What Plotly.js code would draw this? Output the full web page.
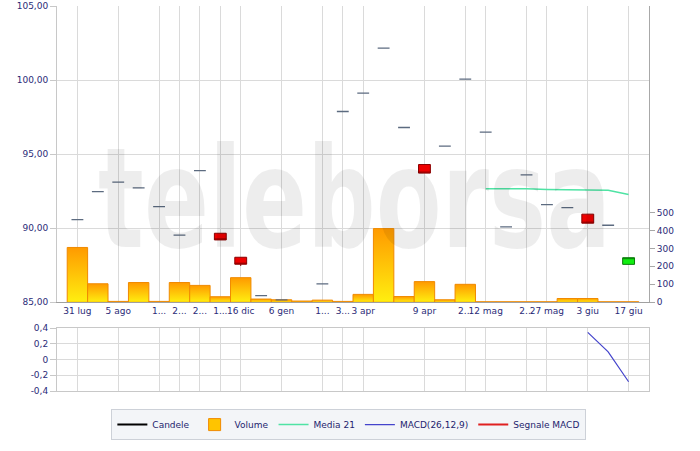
<!DOCTYPE html>
<html>
<head>
<meta charset="utf-8">
<script src="https://cdn.plot.ly/plotly-3.0.1.min.js"></script>
<style>
  html, body { margin: 0; padding: 0; background: #ffffff; }
  #chart { width: 700px; height: 451px; }
</style>
</head>
<body>
<div id="chart"></div>
<script>
// ---- Data ----
const xIndex = [0,1,2,3,4,5,6,7,8,9,10,11,12,13,14,15,16,17,18,19,20,21,22,23,24,25,26,27];
const tickIndex = [0,2,4,5,6,7,8,10,12,13,14,17,19,20,22,23,25,27];
const tickLabels = ["31 lug","5 ago","1...","2...","2...","1...","16 dic","6 gen","1...","3...","3 apr","9 apr","2...","12 mag","2...","27 mag","3 giu","17 giu"];

const openP  = [90.58,92.47,93.11,92.72,91.46,89.53,93.89,89.66,88.04,85.45,85.16,null,86.25,97.88,99.12,102.16,96.80,94.30,95.54,100.07,96.49,90.09,93.60,91.59,91.39,90.95,90.20,87.56];
const closeP = [90.58,92.47,93.11,92.72,91.46,89.53,93.89,89.21,87.57,85.45,85.16,null,86.25,97.88,99.12,102.16,96.80,93.72,95.54,100.07,96.49,90.09,93.60,91.59,91.39,90.34,90.20,88.01];
const highP  = [90.58,92.47,93.11,92.72,91.46,89.53,93.89,89.66,88.04,85.45,85.16,null,86.25,97.88,99.12,102.16,96.80,94.30,95.54,100.07,96.49,90.09,93.60,91.59,91.39,90.95,90.20,88.01];
const lowP   = [90.58,92.47,93.11,92.72,91.46,89.53,93.89,89.21,87.45,85.45,85.16,null,86.25,97.88,99.12,102.16,96.80,93.72,95.54,100.07,96.49,90.09,93.60,91.59,91.39,90.34,90.20,87.56];

const volume = [305,103,5,110,5,110,94,31,137,18,14,7,12,5,44,410,32,115,14,100,3,3,3,3,21,21,3,3];

const media21 = [null,null,null,null,null,null,null,null,null,null,null,null,null,null,null,null,null,null,null,null,92.66,92.68,92.67,92.62,92.59,92.57,92.56,92.28];

const macd = [null,null,null,null,null,null,null,null,null,null,null,null,null,null,null,null,null,null,null,null,null,null,null,null,null,0.344,0.098,-0.283];
const macdTicks = [-0.4,-0.2,0,0.2,0.4];
const macdTickText = ["-0,4","-0,2","0","0,2","0,4"];
const volTicks = [0,100,200,300,400,500];

// ---- split candles: bodies vs. doji dashes ----
function pick(arr, cond) { return arr.map((v, i) => cond(i) ? v : null); }
const isDoji = i => openP[i] !== null && openP[i] === closeP[i];
const isBody = i => openP[i] !== null && openP[i] !== closeP[i];

const tickFont = { family: 'DejaVu Sans, Verdana, sans-serif', size: 9, color: '#2B2B78' };
const gridC = '#DADADA';

const traces = [
  { // volume bars (base subplot, drawn underneath)
    type: 'bar', x: xIndex, y: volume, xaxis: 'x', yaxis: 'y',
    name: 'Volume', width: 1,
    marker: { color: '#FFC400', line: { color: '#F08A00', width: 1 } },
    legendrank: 2, hoverinfo: 'skip'
  },
  { // doji candles
    type: 'candlestick', x: xIndex, xaxis: 'x', yaxis: 'y2',
    open: pick(openP, isDoji), high: pick(highP, isDoji), low: pick(lowP, isDoji), close: pick(closeP, isDoji),
    increasing: { line: { color: '#5C6B80', width: 1.3 }, fillcolor: '#5C6B80' },
    decreasing: { line: { color: '#5C6B80', width: 1.3 }, fillcolor: '#5C6B80' },
    whiskerwidth: 0, showlegend: false, hoverinfo: 'skip'
  },
  { // candle bodies
    type: 'candlestick', x: xIndex, xaxis: 'x', yaxis: 'y2',
    open: pick(openP, isBody), high: pick(highP, isBody), low: pick(lowP, isBody), close: pick(closeP, isBody),
    increasing: { line: { color: '#0A7A0A', width: 1 }, fillcolor: '#11EE11' },
    decreasing: { line: { color: '#8A0000', width: 1 }, fillcolor: '#EE0000' },
    whiskerwidth: 0, showlegend: false, hoverinfo: 'skip'
  },
  { // legend entry for candles
    type: 'scatter', mode: 'lines', x: [null], y: [null], xaxis: 'x', yaxis: 'y2',
    name: 'Candele', line: { color: '#000000', width: 2 }, legendrank: 1
  },
  {
    type: 'scatter', mode: 'lines', x: xIndex, y: media21, xaxis: 'x', yaxis: 'y2',
    name: 'Media 21', line: { color: '#4FE3A4', width: 1.5 }, legendrank: 3, hoverinfo: 'skip'
  },
  {
    type: 'scatter', mode: 'lines', x: xIndex, y: macd, xaxis: 'x2', yaxis: 'y3',
    name: 'MACD(26,12,9)', line: { color: '#4444CC', width: 1.2 }, legendrank: 4, hoverinfo: 'skip'
  },
  {
    type: 'scatter', mode: 'lines', x: [null], y: [null], xaxis: 'x2', yaxis: 'y3',
    name: 'Segnale MACD', line: { color: '#E02020', width: 2 }, legendrank: 5
  }
];

const layout = {
  width: 700, height: 451,
  margin: { l: 57, r: 51, t: 6, b: 60 },
  paper_bgcolor: '#ffffff', plot_bgcolor: '#ffffff',
  separators: ',.',
  font: tickFont,
  bargap: 0, boxgap: 0.17,
  showlegend: true,
  xaxis: {
    domain: [0, 1], anchor: 'y', range: [-1, 28],
    tickmode: 'array', tickvals: tickIndex, ticktext: tickLabels, tickangle: 0,
    showgrid: true, gridcolor: gridC, gridwidth: 1, zeroline: false,
    showline: true, linecolor: '#A0A0A0', linewidth: 1,
    ticks: '', tickfont: tickFont,
    rangeslider: { visible: false }, fixedrange: true
  },
  xaxis2: {
    domain: [0, 1], anchor: 'y3', matches: 'x', range: [-1, 28],
    tickmode: 'array', tickvals: tickIndex, showticklabels: false,
    showgrid: true, gridcolor: gridC, zeroline: false,
    showline: true, mirror: true, linecolor: '#C8C8C8', ticks: '',
    rangeslider: { visible: false }
  },
  yaxis: { // volume
    domain: [0.2304, 1], anchor: 'x', side: 'right', range: [0, 1648],
    tickmode: 'array', tickvals: volTicks, showgrid: false, zeroline: false,
    showline: true, linecolor: '#A8A8A8', ticks: 'outside', ticklen: 5, tickcolor: '#A8A8A8',
    tickfont: tickFont
  },
  yaxis2: { // price
    overlaying: 'y', anchor: 'x', side: 'left', range: [85, 105],
    tickmode: 'linear', tick0: 85, dtick: 5, tickformat: '.2f',
    showgrid: true, gridcolor: gridC, zeroline: false,
    showline: true, linecolor: '#C8C8C8', ticks: 'outside', ticklen: 6, tickcolor: '#C8C8C8',
    tickfont: tickFont
  },
  yaxis3: { // MACD
    domain: [0, 0.1636], anchor: 'x2', range: [-0.4, 0.4],
    tickmode: 'array', tickvals: macdTicks, ticktext: macdTickText,
    showgrid: true, gridcolor: gridC, zeroline: false,
    showline: true, mirror: true, linecolor: '#C8C8C8', ticks: 'outside', ticklen: 6, tickcolor: '#C8C8C8',
    tickfont: tickFont
  },
  legend: {
    orientation: 'h', xref: 'paper', yref: 'paper',
    x: 0.493, xanchor: 'center', y: -0.047, yanchor: 'top',
    bgcolor: '#F3F5F8', bordercolor: '#CDD1D8', borderwidth: 1,
    font: { family: 'DejaVu Sans, Verdana, sans-serif', size: 9, color: '#1E1E6E' },
    traceorder: 'normal', itemwidth: 30
  },
  annotations: [{
    text: 'teleborsa', xref: 'paper', yref: 'paper', x: 0.503, y: 0.50,
    xanchor: 'center', yanchor: 'middle', showarrow: false,
    font: { family: 'DejaVu Sans, sans-serif', size: 96, weight: 'bold', color: 'rgba(0,0,0,0.07)' }
  }]
};

Plotly.newPlot('chart', traces, layout, { staticPlot: true, displayModeBar: false }).then(function (gd) {
  const svg = gd.querySelector('svg.main-svg');
  const ns = 'http://www.w3.org/2000/svg';
  let defs = svg.querySelector('defs');
  if (!defs) { defs = document.createElementNS(ns, 'defs'); svg.insertBefore(defs, svg.firstChild); }
  const g = document.createElementNS(ns, 'linearGradient');
  g.setAttribute('id', 'volGrad');
  g.setAttribute('x1', '0'); g.setAttribute('y1', '0'); g.setAttribute('x2', '0'); g.setAttribute('y2', '1');
  [['0', '#FF9A00'], ['1', '#FFEF10']].forEach(function (s) {
    const st = document.createElementNS(ns, 'stop');
    st.setAttribute('offset', s[0]); st.setAttribute('stop-color', s[1]);
    g.appendChild(st);
  });
  defs.appendChild(g);
  gd.querySelectorAll('.barlayer .trace.bars path').forEach(function (p) {
    p.style.fill = 'url(#volGrad)';
  });
  gd.querySelectorAll('.legend .legendpoints .legendbar path, .legend .legendbar').forEach(function (p) {
    if (p.tagName === 'path') p.style.fill = 'url(#volGrad)';
  });
  // stretch the watermark vertically (it stays real text)
  const wm = gd.querySelector('.annotation-text-g text');
  if (wm) {
    const bb = wm.getBBox();
    const cx = bb.x + bb.width / 2, cy = bb.y + bb.height / 2;
    wm.setAttribute('transform', 'translate(' + cx + ',' + cy + ') scale(1,1.45) translate(' + (-cx) + ',' + (-cy) + ')');
  }
});
</script>
</body>
</html>
